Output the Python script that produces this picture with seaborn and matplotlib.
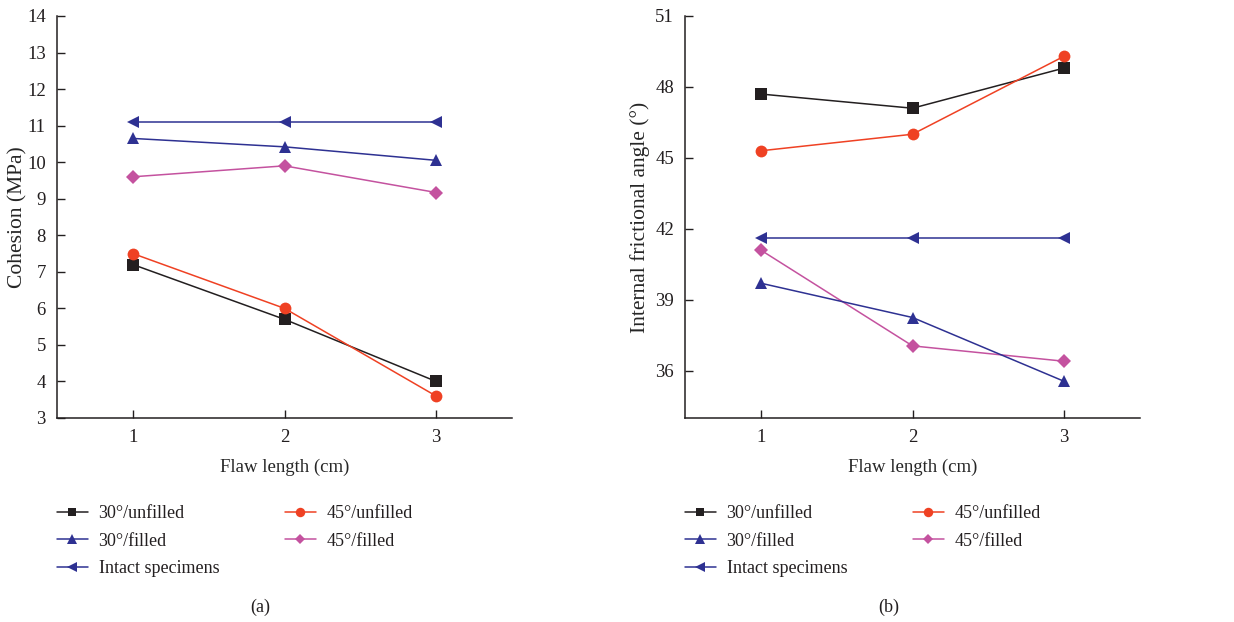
import numpy as np
import pandas as pd
import matplotlib
matplotlib.use("Agg")
import matplotlib.pyplot as plt
import seaborn as sns

# Flaw lengths (cm)
flaw_length = [1, 2, 3]

series_names = ["30°/unfilled", "30°/filled", "Intact specimens",
                "45°/unfilled", "45°/filled"]

# Cohesion (MPa)
cohesion_30_unfilled = [7.2, 5.7, 4.0]
cohesion_45_unfilled = [7.5, 6.0, 3.6]
cohesion_30_filled = [10.65, 10.42, 10.05]
cohesion_45_filled = [9.6, 9.9, 9.17]
cohesion_intact = [11.1, 11.1, 11.1]

# Internal frictional angle (degrees)
friction_30_unfilled = [47.7, 47.1, 48.8]
friction_45_unfilled = [45.3, 46.0, 49.3]
friction_30_filled = [39.7, 38.25, 35.55]
friction_45_filled = [41.1, 37.05, 36.4]
friction_intact = [41.6, 41.6, 41.6]

colors = {
    "30°/unfilled": "#231f20",
    "45°/unfilled": "#ef4123",
    "30°/filled": "#2e3192",
    "45°/filled": "#c4529f",
    "Intact specimens": "#2e3192",
}
markers = {
    "30°/unfilled": "s",
    "45°/unfilled": "o",
    "30°/filled": "^",
    "45°/filled": "D",
    "Intact specimens": "<",
}
marker_sizes = {"s": 8, "o": 8.5, "^": 8.5, "D": 7, "<": 9}


def to_long(values_by_series):
    rows = []
    for name, vals in values_by_series.items():
        for x, v in zip(flaw_length, vals):
            rows.append({"Flaw length": x, "value": v, "series": name})
    return pd.DataFrame(rows)


cohesion_df = to_long({
    "30°/unfilled": cohesion_30_unfilled,
    "30°/filled": cohesion_30_filled,
    "Intact specimens": cohesion_intact,
    "45°/unfilled": cohesion_45_unfilled,
    "45°/filled": cohesion_45_filled,
})
friction_df = to_long({
    "30°/unfilled": friction_30_unfilled,
    "30°/filled": friction_30_filled,
    "Intact specimens": friction_intact,
    "45°/unfilled": friction_45_unfilled,
    "45°/filled": friction_45_filled,
})

sns.set_theme(style="ticks")
plt.rcParams["font.family"] = ["Liberation Serif", "DejaVu Serif"]
plt.rcParams["mathtext.fontset"] = "stix"

W, H = 1234, 622
fig = plt.figure(figsize=(W / 100, H / 100), dpi=100)

ax_a = fig.add_axes([57 / W, 1 - 418 / H, 455 / W, 402 / H])
ax_b = fig.add_axes([685 / W, 1 - 418 / H, 455 / W, 402 / H])


def draw_panel(ax, df, ylabel, ylim, yticks, ylabel_x):
    # draw the intact line first so the filled/unfilled series sit on top
    order = ["Intact specimens", "45°/filled", "30°/filled",
             "30°/unfilled", "45°/unfilled"]
    for name in order:
        sub = df[df["series"] == name]
        m = markers[name]
        sns.lineplot(data=sub, x="Flaw length", y="value", ax=ax,
                     color=colors[name], marker=m, markersize=marker_sizes[m],
                     markeredgewidth=0, linewidth=1.1, label=name,
                     legend=False, zorder=3)
    ax.set_xlim(0.5, 3.5)
    ax.set_ylim(*ylim)
    ax.set_xticks(flaw_length)
    ax.set_yticks(yticks)
    ax.set_xlabel("Flaw length (cm)", fontsize=13.5, labelpad=9)
    ax.set_ylabel(ylabel, fontsize=15.5)
    ax.yaxis.set_label_coords(ylabel_x, 0.5)
    ax.tick_params(direction="in", length=6, width=1, labelsize=13.5,
                   colors="#231f20", pad=8)
    for side in ("top", "right"):
        ax.spines[side].set_visible(False)
    for side in ("left", "bottom"):
        ax.spines[side].set_linewidth(1.1)
        ax.spines[side].set_color("#231f20")

    handles = []
    for name in series_names:
        m = markers[name]
        h, = ax.plot([], [], color=colors[name], marker=m,
                     markersize=marker_sizes[m] * 0.8, markeredgewidth=0,
                     linewidth=1.1, label=name)
        handles.append(h)
    leg = ax.legend(handles=handles, loc="upper left",
                    bbox_to_anchor=(0, -0.216), ncol=2, frameon=False,
                    fontsize=13, borderpad=0, borderaxespad=0,
                    handlelength=1.7, handletextpad=0.6,
                    columnspacing=3.65, labelspacing=0.6)
    for t in leg.get_texts():
        t.set_color("#231f20")


draw_panel(ax_a, cohesion_df, "Cohesion (MPa)", (3, 14), range(3, 15), -0.064)
draw_panel(ax_b, friction_df, "Internal frictional angle (°)", (34, 51),
           [36, 39, 42, 45, 48, 51], -0.076)

fig.text(260 / W, 1 - 607 / H, "(a)", ha="center", va="center", fontsize=13,
         color="#231f20")
fig.text(889 / W, 1 - 607 / H, "(b)", ha="center", va="center", fontsize=13,
         color="#231f20")

fig.savefig("out.png", dpi=100)
